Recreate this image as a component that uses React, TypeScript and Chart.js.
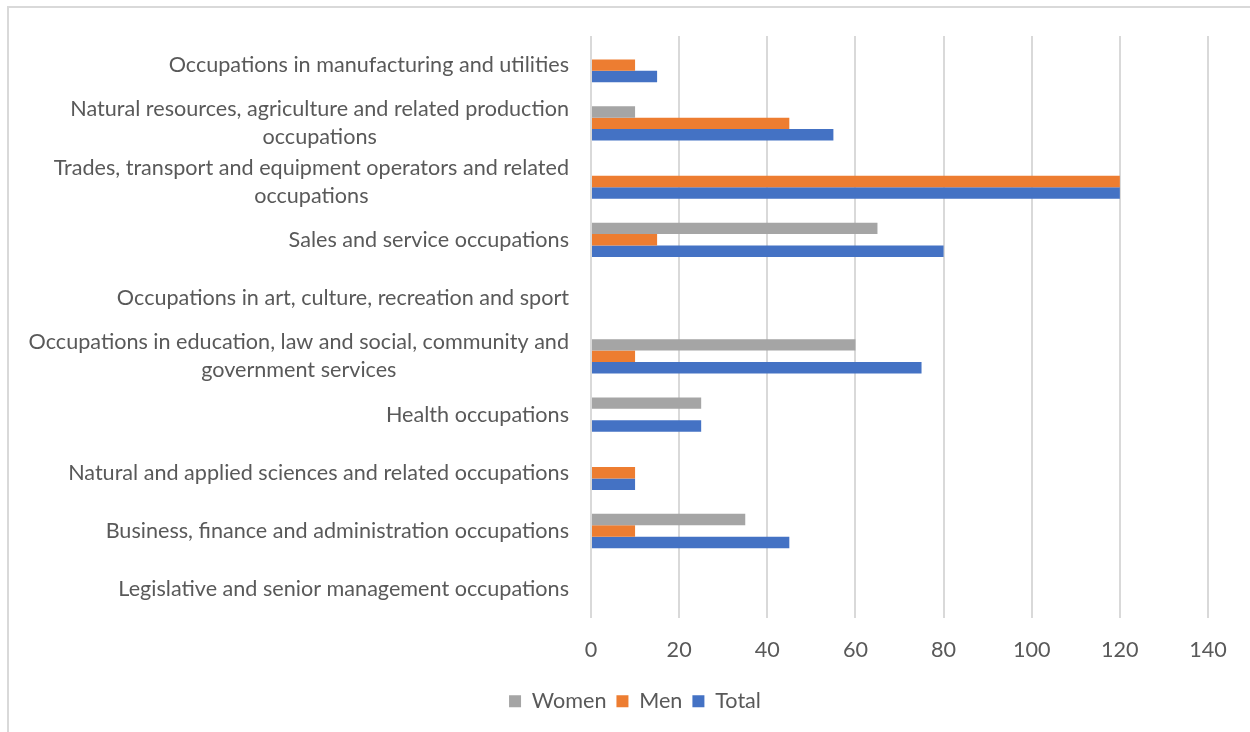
import React, { useEffect, useRef } from "react";
import { Chart, registerables } from "chart.js";

Chart.register(...registerables);

const categories: string[][] = [
  ["Occupations in manufacturing and utilities"],
  ["Natural resources, agriculture and related production", "occupations"],
  ["Trades, transport and equipment operators and related", "occupations"],
  ["Sales and service occupations"],
  ["Occupations in art, culture, recreation and sport"],
  ["Occupations in education, law and social, community and", "government services"],
  ["Health occupations"],
  ["Natural and applied sciences and related occupations"],
  ["Business, finance and administration occupations"],
  ["Legislative and senior management occupations"],
];

const women = [0, 10, 0, 65, 0, 60, 25, 0, 35, 0];
const men = [10, 45, 120, 15, 0, 10, 0, 10, 10, 0];
const total = [15, 55, 120, 80, 0, 75, 25, 10, 45, 0];

const xMin = 0;
const xMax = 140;
const xStep = 20;

const FONT = "Lato, 'Liberation Sans', sans-serif";
const FONT_SIZE = 21.6;
const LINE_H = 28;
const TEXT = "#595959";
const GRID = "#d9d9d9";

const yLabelPlugin = {
  id: "yLabels",
  afterDraw(chart: any) {
    const ctx = chart.ctx;
    const y = chart.scales.y;
    ctx.save();
    ctx.font = `${FONT_SIZE}px ${FONT}`;
    ctx.fillStyle = TEXT;
    ctx.textBaseline = "middle";
    ctx.textAlign = "center";
    const right = chart.chartArea.left - 22;
    categories.forEach((lines, i) => {
      const cy = y.getPixelForValue(i);
      const w = Math.max(...lines.map((l) => ctx.measureText(l).width));
      const cx = right - w / 2;
      lines.forEach((l, j) => {
        ctx.fillText(l, cx, cy + (j - (lines.length - 1) / 2) * LINE_H);
      });
    });
    ctx.restore();
  },
};

export default function App() {
  const ref = useRef<HTMLCanvasElement | null>(null);

  useEffect(() => {
    if (!ref.current) return;
    const chart = new Chart(ref.current, {
      type: "bar",
      data: {
        labels: categories.map((c) => c.join(" ")),
        datasets: [
          { label: "Women", data: women, backgroundColor: "#a5a5a5" },
          { label: "Men", data: men, backgroundColor: "#ed7d31" },
          { label: "Total", data: total, backgroundColor: "#4472c4" },
        ],
      },
      options: {
        indexAxis: "y",
        responsive: false,
        animation: false,
        devicePixelRatio: 1,
        datasets: {
          bar: { categoryPercentage: 0.59, barPercentage: 1, borderWidth: 0 },
        },
        layout: { padding: { left: 62, right: 42, top: 36, bottom: 10 } },
        scales: {
          x: {
            type: "linear",
            min: xMin,
            max: xMax,
            ticks: {
              stepSize: xStep,
              color: TEXT,
              font: { family: FONT, size: FONT_SIZE },
              padding: 19,
            },
            grid: { color: GRID, lineWidth: 2, drawTicks: false },
            border: { display: false },
            afterFit: (s: any) => {
              s.height = 62;
            },
          },
          y: {
            display: true,
            ticks: { display: false },
            grid: { display: false, drawTicks: false },
            border: { display: false },
            afterFit: (s: any) => {
              s.width = 529;
            },
          },
        },
        plugins: {
          legend: {
            position: "bottom",
            labels: {
              boxWidth: 12,
              boxHeight: 12,
              color: TEXT,
              font: { family: FONT, size: FONT_SIZE },
              padding: 10,
            },
          },
          tooltip: { enabled: true },
        },
      },
      plugins: [yLabelPlugin],
    });
    return () => chart.destroy();
  }, []);

  return (
    <div style={{ position: "fixed", left: 0, top: 0, width: 1250, height: 732, background: "#fff" }}>
      <canvas ref={ref} width={1250} height={732} style={{ position: "absolute", left: 0, top: 0, width: 1250, height: 732 }} />
      <div
        style={{
          position: "absolute",
          left: 7,
          top: 6,
          width: 1260,
          height: 740,
          border: `2px solid ${GRID}`,
          pointerEvents: "none",
        }}
      />
    </div>
  );
}
